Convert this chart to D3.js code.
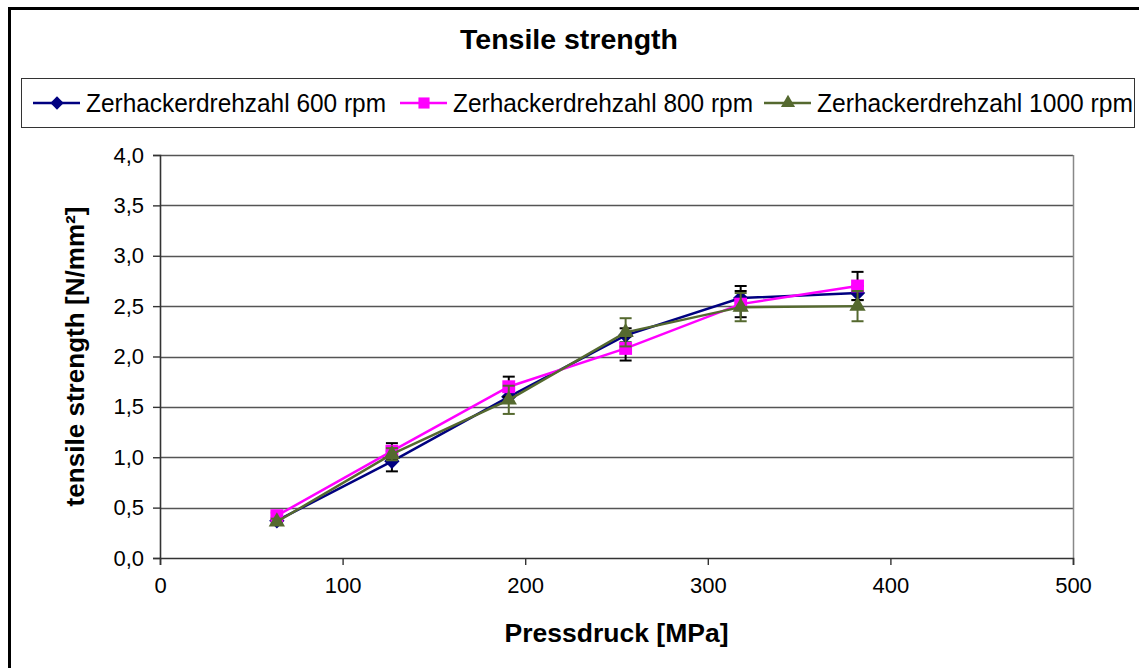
<!DOCTYPE html>
<html>
<head>
<meta charset="utf-8">
<script src="https://cdn.jsdelivr.net/npm/d3@7"></script>
<style>
  html, body { margin: 0; padding: 0; background: #fff; }
  svg { display: block; font-family: "Liberation Sans", Arial, sans-serif; }
</style>
</head>
<body>
<svg id="chart" width="1139" height="668"></svg>
<script>
// Pressing pressure [MPa]
const pressure = [64, 127, 191, 255, 318, 382];

// Tensile strength per chopper speed [N/mm²] with standard deviations
const ts600  = [0.37, 0.96, 1.60, 2.21, 2.58, 2.63];
const sd600  = [0.03, 0.10, 0.05, 0.07, 0.12, 0.07];
const ts800  = [0.42, 1.06, 1.70, 2.08, 2.52, 2.70];
const sd800  = [0.03, 0.08, 0.10, 0.12, 0.13, 0.14];
const ts1000 = [0.36, 1.03, 1.57, 2.24, 2.49, 2.50];
const sd1000 = [0.03, 0.06, 0.14, 0.14, 0.14, 0.15];

const seriesNames = ["Zerhackerdrehzahl 600 rpm", "Zerhackerdrehzahl 800 rpm", "Zerhackerdrehzahl 1000 rpm"];
const xTicks = [0, 100, 200, 300, 400, 500];
const yTicks = [0, 0.5, 1, 1.5, 2, 2.5, 3, 3.5, 4];

const series = [
  { name: seriesNames[0], y: ts600,  sd: sd600,  color: "#000080", errColor: "#000000", symbol: d3.symbolDiamond2, size: 150 },
  { name: seriesNames[1], y: ts800,  sd: sd800,  color: "#FF00FF", errColor: "#000000", symbol: d3.symbolSquare2,  size: 210 },
  { name: seriesNames[2], y: ts1000, sd: sd1000, color: "#55692F", errColor: "#55692F", symbol: d3.symbolTriangle2, size: 190 }
];

const svg = d3.select("#chart");
const plot = { left: 160, right: 1073, top: 155, bottom: 558 };

const x = d3.scaleLinear().domain([0, 500]).range([plot.left, plot.right]);
const y = d3.scaleLinear().domain([0, 4]).range([plot.bottom, plot.top]);

// outer chart frame
svg.append("path")
  .attr("d", "M9.5,700 V8.5 H1200")
  .attr("fill", "none").attr("stroke", "#000").attr("stroke-width", 3);

// title
svg.append("text")
  .attr("x", 569).attr("y", 49)
  .attr("text-anchor", "middle")
  .attr("font-weight", "bold").attr("font-size", 27)
  .attr("textLength", 218).attr("lengthAdjust", "spacingAndGlyphs")
  .text("Tensile strength");

// legend
const legend = svg.append("g");
legend.append("rect")
  .attr("x", 21.5).attr("y", 78.5).attr("width", 1113).attr("height", 49)
  .attr("fill", "#fff").attr("stroke", "#333").attr("stroke-width", 1);
const legendX = [33, 400, 764];
series.forEach((s, i) => {
  const g = legend.append("g").attr("transform", `translate(${legendX[i]},103)`);
  g.append("line").attr("x1", 0).attr("x2", 47).attr("y1", 0).attr("y2", 0)
    .attr("stroke", s.color).attr("stroke-width", 2.5);
  g.append("path").attr("d", d3.symbol(s.symbol, s.size * 0.75)())
    .attr("transform", "translate(24,0)").attr("fill", s.color);
  g.append("text").attr("x", 53).attr("y", 9)
    .attr("font-size", 25)
    .attr("textLength", i === 2 ? 316 : 300)
    .attr("lengthAdjust", "spacingAndGlyphs")
    .text(s.name);
});

// gridlines
svg.append("g")
  .selectAll("line").data(yTicks.filter(v => v > 0))
  .join("line")
  .attr("x1", plot.left).attr("x2", plot.right)
  .attr("y1", d => Math.round(y(d)) + 0.5).attr("y2", d => Math.round(y(d)) + 0.5)
  .attr("stroke", "#555").attr("stroke-width", 1.6);

// plot frame (right side)
svg.append("line")
  .attr("x1", plot.right + 0.5).attr("x2", plot.right + 0.5)
  .attr("y1", plot.top).attr("y2", plot.bottom)
  .attr("stroke", "#888").attr("stroke-width", 1.5);

// axes
const yAxis = svg.append("g")
  .attr("transform", `translate(${plot.left},0)`)
  .call(d3.axisLeft(y).tickValues(yTicks).tickSize(7).tickPadding(9)
    .tickFormat(d => d3.format(".1f")(d).replace(".", ",")));
const xAxis = svg.append("g")
  .attr("transform", `translate(0,${plot.bottom})`)
  .call(d3.axisBottom(x).tickValues(xTicks).tickSize(7).tickPadding(12));

[xAxis, yAxis].forEach(a => {
  a.select(".domain").attr("stroke", "#333").attr("stroke-width", 1.6);
  a.selectAll(".tick line").attr("stroke", "#333").attr("stroke-width", 1.4);
  a.selectAll(".tick text").attr("font-size", 22).attr("fill", "#000")
    .attr("font-family", "'Liberation Sans', Arial, sans-serif");
});

// axis titles
svg.append("text")
  .attr("x", (plot.left + plot.right) / 2).attr("y", 642)
  .attr("text-anchor", "middle").attr("font-weight", "bold").attr("font-size", 25)
  .attr("textLength", 224).attr("lengthAdjust", "spacingAndGlyphs")
  .text("Pressdruck [MPa]");
svg.append("text")
  .attr("transform", `translate(84,${(plot.top + plot.bottom) / 2}) rotate(-90)`)
  .attr("text-anchor", "middle").attr("font-weight", "bold").attr("font-size", 25)
  .attr("textLength", 300).attr("lengthAdjust", "spacingAndGlyphs")
  .text("tensile strength [N/mm²]");

// series: error bars, lines, markers
const line = d3.line().x(d => x(d[0])).y(d => y(d[1]));
series.forEach(s => {
  const g = svg.append("g");
  const pts = pressure.map((p, i) => [p, s.y[i], s.sd[i]]);

  const eb = g.append("g").selectAll("g").data(pts).join("g");
  eb.append("line")
    .attr("x1", d => x(d[0])).attr("x2", d => x(d[0]))
    .attr("y1", d => y(d[1] - d[2])).attr("y2", d => y(d[1] + d[2]))
    .attr("stroke", s.errColor).attr("stroke-width", 2);
  [-1, 1].forEach(sign => {
    eb.append("line")
      .attr("x1", d => x(d[0]) - 6).attr("x2", d => x(d[0]) + 6)
      .attr("y1", d => y(d[1] + sign * d[2])).attr("y2", d => y(d[1] + sign * d[2]))
      .attr("stroke", s.errColor).attr("stroke-width", 2);
  });

  g.append("path").datum(pts).attr("d", line)
    .attr("fill", "none").attr("stroke", s.color).attr("stroke-width", 2.5);

  g.selectAll("path.mark").data(pts).join("path").attr("class", "mark")
    .attr("d", d3.symbol(s.symbol, s.size)())
    .attr("transform", d => `translate(${x(d[0])},${y(d[1])})`)
    .attr("fill", s.color);
});
</script>
</body>
</html>
